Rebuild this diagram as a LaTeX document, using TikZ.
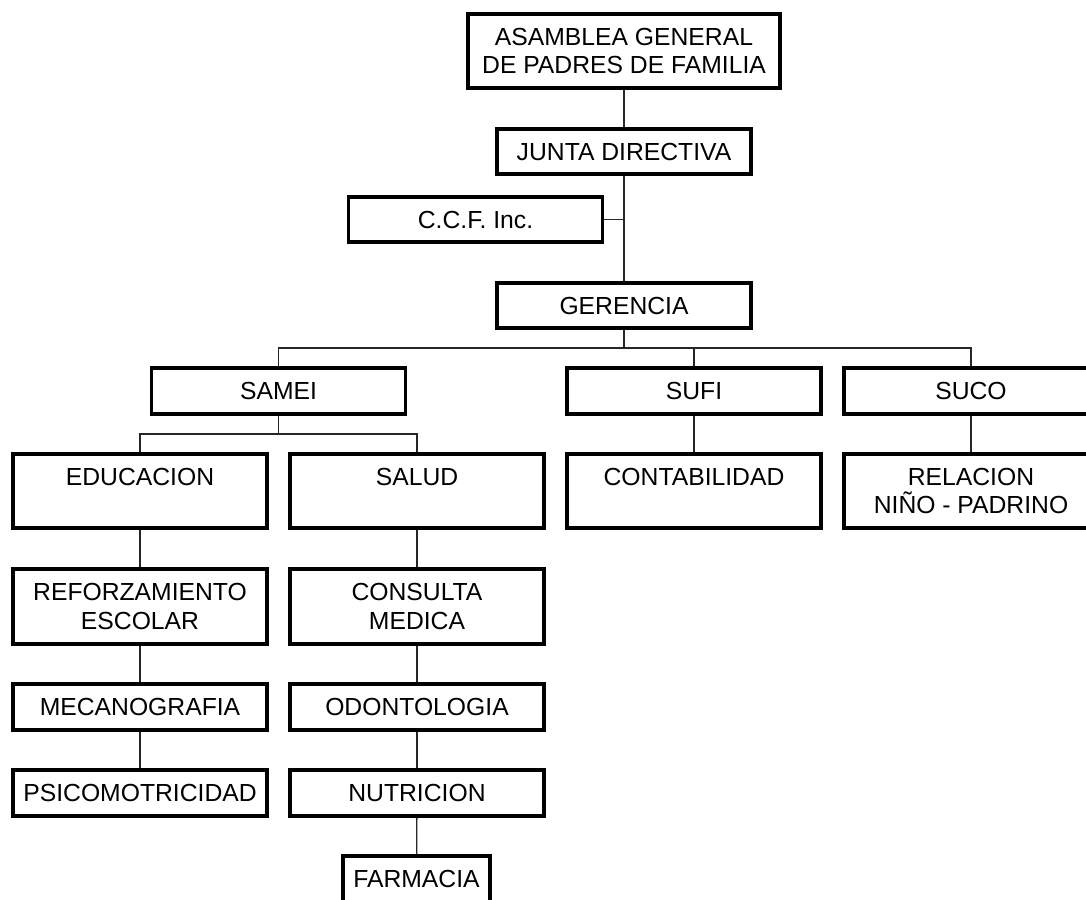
\documentclass[tikz,border=0pt]{standalone}
\usepackage{fontspec}
\setmainfont{Liberation Sans}
\begin{document}
\begin{tikzpicture}[x=1pt,y=-1pt,
  box/.style={draw=black, line width=3.5pt, rectangle, inner sep=0pt, align=center,
    font=\fontsize{24.7}{28.5}\selectfont, minimum width=254pt, minimum height=46pt},
  tall/.style={box, minimum height=74pt},
  link/.style={draw=black!85, line width=1.3pt}]
\clip (0,0) rectangle (1086,899);
\node[box, minimum width=312pt, minimum height=74pt] (asam) at (624,51) {ASAMBLEA GENERAL\\DE PADRES DE FAMILIA};
\node[box, minimum height=45pt] (junta) at (624,151.5) {JUNTA DIRECTIVA};
\node[box, minimum height=45pt] (ccf) at (475.5,219.5) {C.C.F. Inc.};
\node[box, minimum height=45pt] (ger) at (624,305.5) {GERENCIA};
\node[box] (samei) at (278.5,391) {SAMEI};
\node[box] (sufi) at (694,391) {SUFI};
\node[box] (suco) at (971,391) {SUCO};
\node[tall] (edu) at (140,491) {EDUCACION\\\phantom{E}};
\node[tall] (salud) at (417,491) {SALUD\\\phantom{E}};
\node[tall] (conta) at (694,491) {CONTABILIDAD\\\phantom{E}};
\node[tall] (rel) at (971,491) {RELACION\\NIÑO - PADRINO};
\node[tall, minimum height=75pt] (refo) at (140,606.5) {REFORZAMIENTO\\ESCOLAR};
\node[tall, minimum height=75pt] (cons) at (417,606.5) {CONSULTA\\MEDICA};
\node[box] (meca) at (140,707) {MECANOGRAFIA};
\node[box] (odon) at (417,707) {ODONTOLOGIA};
\node[box] (psico) at (140,793) {PSICOMOTRICIDAD};
\node[box] (nutri) at (417,793) {NUTRICION};
\node[box, minimum width=147pt] (farm) at (416.5,879) {FARMACIA};
\coordinate (bus) at (0,348);
\coordinate (sub) at (0,434);
\path[link] (asam) -- (junta);
\path[link] (junta) -- (ger);
\path[link] (ccf.east) -- (ccf.east -| junta.south);
\path[link] (ger.south) -- (ger.south |- bus);
\path[link] (samei.north) -- (samei.north |- bus) -| (suco.north);
\path[link] (sufi.north) -- (sufi.north |- bus);
\path[link] (samei.south) -- (samei.south |- sub);
\path[link] (edu.north) -- (edu.north |- sub) -| (salud.north);
\path[link] (edu) -- (refo);
\path[link] (refo) -- (meca);
\path[link] (meca) -- (psico);
\path[link] (salud) -- (cons);
\path[link] (cons) -- (odon);
\path[link] (odon) -- (nutri);
\path[link] (nutri) -- (farm);
\path[link] (sufi) -- (conta);
\path[link] (suco) -- (rel);
\end{tikzpicture}
\end{document}
